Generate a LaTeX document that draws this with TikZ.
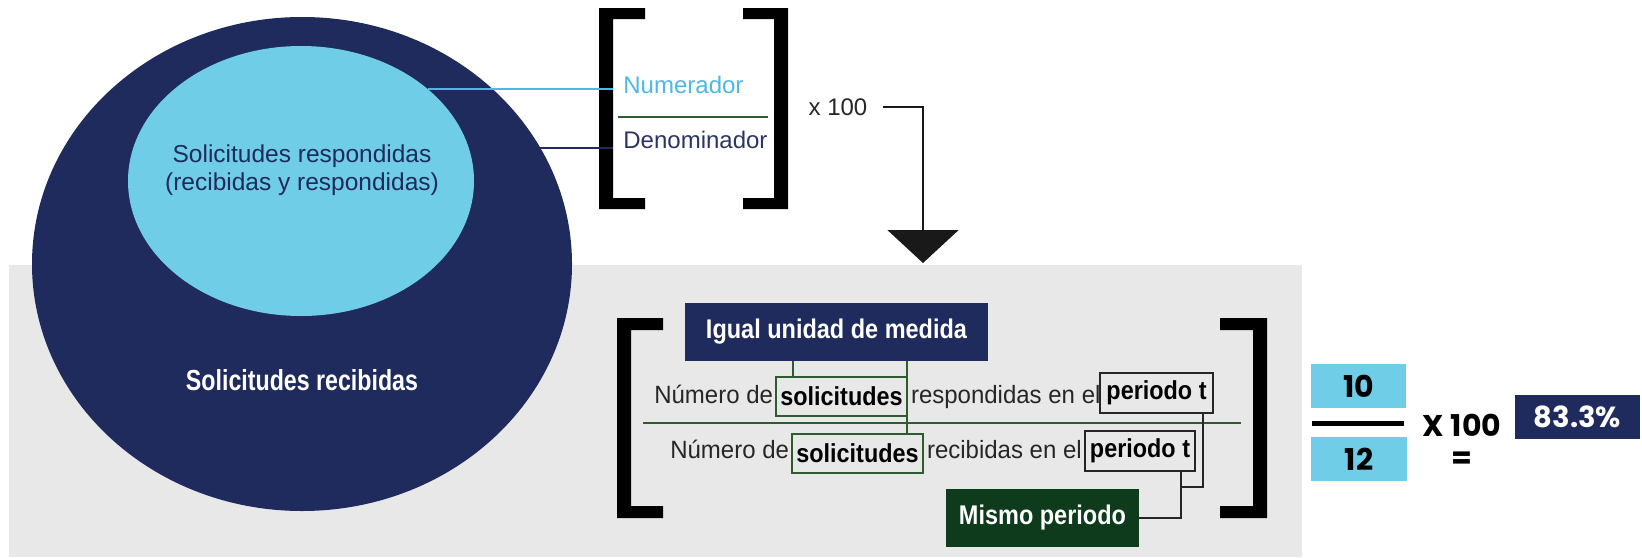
\documentclass[tikz,border=0pt]{standalone}
\usepackage{fontspec}
\setmainfont{Liberation Sans}
\newfontfamily\sansA{Liberation Sans}
\newfontfamily\condA[FakeStretch=0.9]{Liberation Sans}
\newfontfamily\condB[FakeStretch=0.8]{Liberation Sans}
\newfontfamily\condC[FakeStretch=0.87]{Liberation Sans}
\newfontfamily\rowf[FakeStretch=0.96]{Liberation Sans}
\newfontfamily\pop{Poppins}
\usetikzlibrary{shapes.geometric,arrows.meta}
\definecolor{navy}{HTML}{1E2B5C}
\definecolor{lblue}{HTML}{70CDE8}
\definecolor{numblue}{HTML}{4DB8E6}
\definecolor{denblue}{HTML}{2B3563}
\definecolor{fgreen}{HTML}{2F5B30}
\definecolor{mgreen}{HTML}{0D3B1B}
\definecolor{bggray}{HTML}{E8E8E8}
\begin{document}
\begin{tikzpicture}[x=0.5pt,y=-0.5pt,
  topfont/.style={font=\sansA\fontsize{12pt}{14pt}\selectfont},
  rowtext/.style={inner sep=0, outer sep=0, font=\rowf\fontsize{12.5pt}{15pt}\selectfont, text=black!85},
  sbox/.style={draw=fgreen, line width=0.75pt, inner sep=0, outer sep=0, minimum width=65.5pt, minimum height=19.5pt, font=\condA\bfseries\fontsize{13pt}{15pt}\selectfont},
  pbox/.style={draw=black!85, line width=0.75pt, inner sep=0, outer sep=0, minimum height=20pt, font=\condA\bfseries\fontsize{13pt}{15pt}\selectfont},
  labelbox/.style={inner sep=0, outer sep=0, text=white, minimum height=29pt, font=\condC\bfseries\fontsize{13.5pt}{16pt}\selectfont},
  gline/.style={draw=fgreen, line width=0.75pt},
  bline/.style={draw=black!85, line width=0.7pt},
  numbox/.style={fill=lblue, inner sep=0, outer sep=0, minimum height=22pt, font=\pop\bfseries\fontsize{15pt}{17pt}\selectfont}
]
\useasboundingbox (0,0) rectangle (1642,557);
\fill[bggray] (9,265) rectangle (1302,557);

% ellipses
\node[ellipse, fill=navy, inner sep=0, outer sep=0, minimum width=270pt, minimum height=247pt] (outer) at (302,264) {};
\node[ellipse, fill=lblue, inner sep=0, outer sep=0, minimum width=173pt, minimum height=135pt] (inner) at (301,181) {};
\node[text=navy, align=center, font=\sansA\fontsize{12.25pt}{14pt}\selectfont] (resp) at (302,170) {Solicitudes respondidas\\(recibidas y respondidas)};
\node[text=white, font=\condB\bfseries\fontsize{14.5pt}{17pt}\selectfont] (recib) at (302,380) {Solicitudes recibidas};

% top brackets
\fill[black] (599,8) -- (645,8) -- (645,19) -- (613,19) -- (613,198) -- (645,198) -- (645,209) -- (599,209) -- cycle;
\fill[black] (788,8) -- (743,8) -- (743,19) -- (774,19) -- (774,198) -- (743,198) -- (743,209) -- (788,209) -- cycle;

\node[anchor=base west, inner sep=0, topfont, text=numblue] (num) at (623,93) {Numerador};
\node[anchor=base west, inner sep=0, topfont, text=denblue] (den) at (623,148) {Denominador};
\coordinate (tf1) at (618,117);
\coordinate (tf2) at (768,117);
\draw[fgreen, line width=1pt] (tf1) -- (tf2);

\coordinate (lb) at (613,0);
\draw[numblue, line width=1pt] (inner.36) -- (inner.36 -| lb);
\draw[navy, line width=1pt] (outer.26) -- (outer.26 -| lb);

\node[inner sep=0, topfont, text=black!85] (x100) at (838,107) {x 100};
\coordinate (ah) at (923,263);
\draw[black!90, line width=1pt, -{Triangle[width=35.5pt,length=16.5pt]}] ([xshift=7.5pt]x100.east) -- (x100.east -| ah) -- (ah);

% lower brackets
\fill[black] (617,318) -- (663,318) -- (663,330) -- (631,330) -- (631,506) -- (663,506) -- (663,518) -- (617,518) -- cycle;
\fill[black] (1267,318) -- (1220,318) -- (1220,330) -- (1253,330) -- (1253,506) -- (1220,506) -- (1220,518) -- (1267,518) -- cycle;

\node[labelbox, fill=navy, minimum width=151.5pt] (igual) at (836.5,332) {Igual unidad de medida};

\node[anchor=base east, rowtext] (n1) at (773,403) {Número de};
\node[sbox] (s1) at (841.5,396.5) {solicitudes};
\node[anchor=base west, rowtext] (r1) at (911,403) {respondidas en el};
\node[pbox, minimum width=56.5pt] (p1) at (1156.5,393) {periodo t};

\coordinate (lf1) at (643,423);
\coordinate (lf2) at (1241,423);
\draw[fgreen, line width=1pt] (lf1) -- (lf2);

\node[anchor=base east, rowtext] (n2) at (789,458) {Número de};
\node[sbox] (s2) at (857.5,453.5) {solicitudes};
\node[anchor=base west, rowtext] (r2) at (927,458) {recibidas en el};
\node[pbox, minimum width=55pt] (p2) at (1140,451) {periodo t};

\node[labelbox, fill=mgreen, minimum width=96.5pt] (mismo) at (1042.5,518) {Mismo periodo};

\draw[gline] ([xshift=8.5pt]s1.north west) -- ([xshift=8.5pt]s1.north west |- igual.south);
\draw[gline] (s2.north -| s1.east) -- (igual.south -| s1.east);

\coordinate (jn) at (1181,487);
\draw[bline] ([xshift=-5pt]p1.south east) |- (jn);
\draw[bline] (p2.south -| jn) |- (mismo.east);

% right side
\node[numbox, minimum width=47.5pt] (b10) at (1358.5,386) {10};
\node[numbox, minimum width=48pt] (b12) at (1359,459) {12};
\coordinate (fb1) at (1312,423);
\coordinate (fb2) at (1404,423);
\draw[black, line width=2.5pt] (fb1) -- (fb2);
\node[inner sep=0, font=\pop\bfseries\fontsize{15pt}{17pt}\selectfont] (times) at (1462,425) {X 100};
\node[inner sep=0, font=\pop\bfseries\fontsize{15pt}{17pt}\selectfont] (eq) at (1462,460) {=};
\node[fill=navy, text=white, inner sep=0, outer sep=0, minimum width=62.5pt, minimum height=22pt, font=\pop\bfseries\fontsize{14.5pt}{17pt}\selectfont] (res) at (1577.5,417) {83.3\%};
\end{tikzpicture}
\end{document}
